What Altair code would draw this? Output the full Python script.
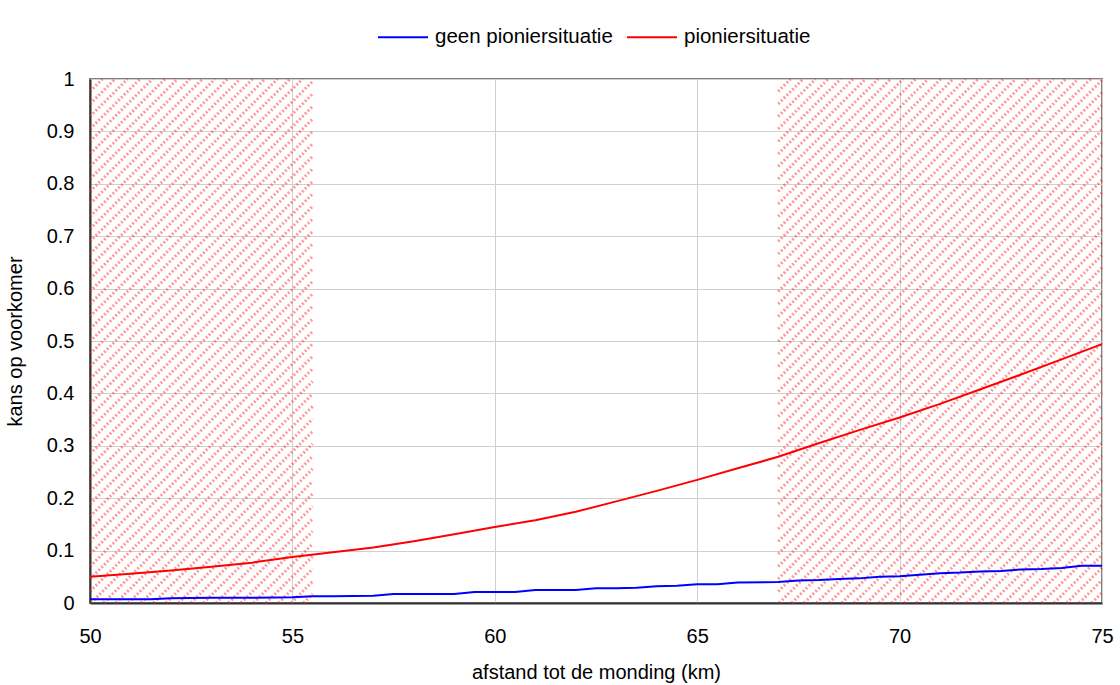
import altair as alt
import pandas as pd
import numpy as np

# ---- data ----
series_names = ["geen pioniersituatie", "pioniersituatie"]
series_colors = ["#0000ff", "#ff0000"]

km_red = [50, 51, 52, 53, 54, 55, 56, 57, 58, 59, 60, 61, 62, 63, 64, 65,
          66, 67, 68, 69, 70, 71, 72, 73, 74, 75]
red = [0.050, 0.056, 0.062, 0.069, 0.077, 0.088, 0.097, 0.106, 0.118, 0.131,
       0.145, 0.158, 0.174, 0.194, 0.214, 0.235, 0.257, 0.279, 0.305, 0.330,
       0.354, 0.380, 0.408, 0.436, 0.465, 0.494]

km_blue = [50, 50.5, 51, 51.5, 52, 53, 54, 55, 55.5, 56, 57, 57.5, 58, 59, 59.5,
           60, 60.5, 61, 62, 62.5, 63, 63.5, 64, 64.5, 65, 65.5, 66, 67, 67.5,
           68, 68.5, 69, 69.5, 70, 70.5, 71, 71.5, 72, 72.5, 73, 73.5, 74, 74.5, 75]
blue = [0.007, 0.007, 0.007, 0.007, 0.009, 0.010, 0.010, 0.011, 0.013, 0.013,
        0.014, 0.017, 0.017, 0.017, 0.021, 0.021, 0.021, 0.025, 0.025, 0.028,
        0.028, 0.029, 0.032, 0.033, 0.036, 0.036, 0.039, 0.040, 0.043, 0.044,
        0.046, 0.047, 0.050, 0.051, 0.054, 0.057, 0.058, 0.060, 0.061, 0.064,
        0.065, 0.067, 0.071, 0.071]

band_start = [50, 67]
band_end = [55.5, 75]

x_ticks = [50, 55, 60, 65, 70, 75]
y_ticks = [0, 0.1, 0.2, 0.3, 0.4, 0.5, 0.6, 0.7, 0.8, 0.9, 1]

# ---- tables ----
lines_df = pd.concat([
    pd.DataFrame({"km": km_blue, "kans": blue, "reeks": series_names[0]}),
    pd.DataFrame({"km": km_red, "kans": red, "reeks": series_names[1]}),
], ignore_index=True)

# diagonal hatching inside each band (45 degrees on screen)
W, H = 1012, 524
K = (H / 1.0) / (W / 25.0)      # km covered by a 45deg line over full y range
STEP = 12.5 / (W / 25.0)         # stripe spacing in km
rows = []
for b, (x0, x1) in enumerate(zip(band_start, band_end)):
    c = x0 - K
    i = 0
    while c < x1:
        lo = max(0.0, (x0 - c) / K)
        hi = min(1.0, (x1 - c) / K)
        if hi > lo:
            rows.append({"x": c + lo * K, "y": lo, "x2": c + hi * K, "y2": hi,
                         "id": f"{b}-{i}"})
        c += STEP
        i += 1
hatch_df = pd.DataFrame(rows)

FONT = "Liberation Sans"

xscale = alt.Scale(domain=[50, 75], nice=False, zero=False)
yscale = alt.Scale(domain=[0, 1], nice=False)

hatch = alt.Chart(hatch_df).mark_rule(
    strokeWidth=3, opacity=0.45, strokeDash=[2, 2]
).encode(
    x=alt.X("x:Q", scale=xscale),
    y=alt.Y("y:Q", scale=yscale),
    x2="x2:Q",
    y2="y2:Q",
    stroke=alt.value("#ff2020"),
)

lines = alt.Chart(lines_df).mark_line(strokeWidth=2).encode(
    x=alt.X("km:Q", scale=xscale,
            axis=alt.Axis(values=x_ticks, title="afstand tot de monding (km)",
                          labelPadding=23, titlePadding=16, labelFlush=False)),
    y=alt.Y("kans:Q", scale=yscale,
            axis=alt.Axis(values=y_ticks, format="~g", title="kans op voorkomer",
                          labelPadding=16, titlePadding=21, labelFlush=False)),
    color=alt.Color("reeks:N",
                    scale=alt.Scale(domain=series_names, range=series_colors),
                    legend=alt.Legend(title=None, orient="none", legendX=287,
                                      legendY=-68, direction="horizontal",
                                      columns=2, symbolType="stroke",
                                      symbolSize=2500, symbolStrokeWidth=2,
                                      labelFontSize=20.5, labelFont=FONT,
                                      labelColor="#000000", labelOffset=6,
                                      labelLimit=1000, columnPadding=10)),
)

chart = alt.layer(hatch, lines).properties(
    width=W, height=H,
    autosize=alt.AutoSizeParams(type="none"),
    padding={"left": 90, "top": 79, "right": 18, "bottom": 82},
    background="#ffffff",
).configure_view(
    stroke="#808080", strokeWidth=2
).configure_axis(
    labelFont=FONT, titleFont=FONT, labelFontSize=20, titleFontSize=20,
    labelColor="#000000", titleColor="#000000", titleFontWeight="normal",
    ticks=False, tickSize=0,
    domainColor="#333333", domainWidth=2,
    gridColor="#d0d0d0", gridWidth=1,
)

chart.save("out.html", embed_options={"renderer": "svg", "actions": False})
